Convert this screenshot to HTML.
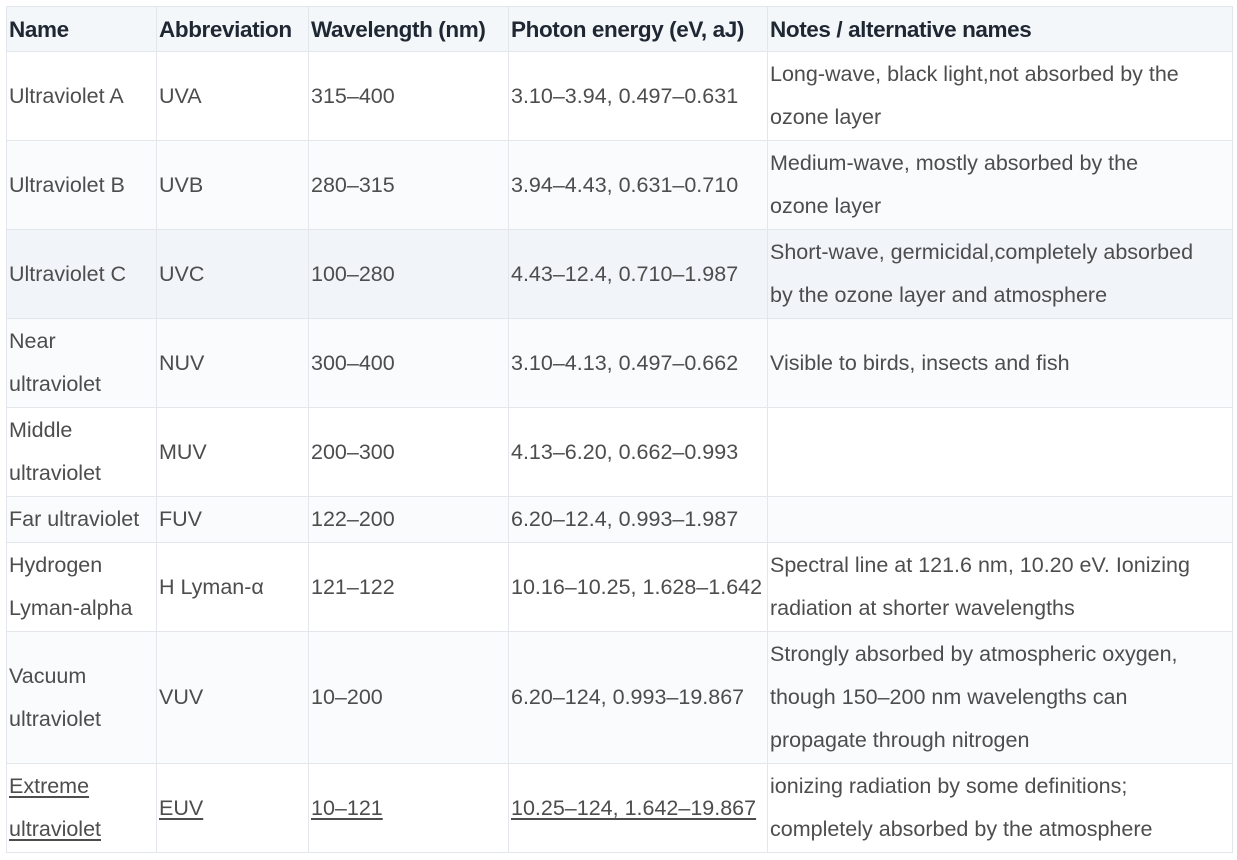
<!DOCTYPE html>
<html><head><meta charset="utf-8"><style>
body{margin:0;background:#fff;width:1237px;height:860px;overflow:hidden}
table{position:absolute;left:6px;top:6px;border-collapse:collapse;table-layout:fixed;width:1226px;font-family:"Liberation Sans",sans-serif;}
td,th{border:1px solid #e3e6ea;padding:0 2px;vertical-align:middle;text-align:left;font-size:21.5px;line-height:43px;color:#4d4d4d;overflow:hidden;white-space:nowrap}
th{font-weight:bold;color:#1f2733;background:#f4f7fa;height:44px;font-size:22.5px;letter-spacing:-0.4px}
tr.s td{background:#f9fbfc}
tr.h td{background:#f1f5f9}
td u{text-decoration:underline;text-decoration-thickness:2px;text-underline-offset:3px}
</style></head><body>
<table>
<colgroup><col style="width:150px"><col style="width:152px"><col style="width:200px"><col style="width:259px"><col style="width:465px"></colgroup>
<tr><th>Name</th><th>Abbreviation</th><th>Wavelength (nm)</th><th>Photon energy (eV, aJ)</th><th>Notes / alternative names</th></tr>
<tr style="height:89px"><td>Ultraviolet A</td><td>UVA</td><td>315–400</td><td>3.10–3.94, 0.497–0.631</td><td>Long-wave, black light,not absorbed by the<br>ozone layer</td></tr>
<tr class="s" style="height:89px"><td>Ultraviolet B</td><td>UVB</td><td>280–315</td><td>3.94–4.43, 0.631–0.710</td><td>Medium-wave, mostly absorbed by the<br>ozone layer</td></tr>
<tr class="h" style="height:89px"><td>Ultraviolet C</td><td>UVC</td><td>100–280</td><td>4.43–12.4, 0.710–1.987</td><td>Short-wave, germicidal,completely absorbed<br>by the ozone layer and atmosphere</td></tr>
<tr class="s" style="height:89px"><td>Near<br>ultraviolet</td><td>NUV</td><td>300–400</td><td>3.10–4.13, 0.497–0.662</td><td>Visible to birds, insects and fish</td></tr>
<tr style="height:89px"><td>Middle<br>ultraviolet</td><td>MUV</td><td>200–300</td><td>4.13–6.20, 0.662–0.993</td><td></td></tr>
<tr class="s" style="height:46px"><td>Far ultraviolet</td><td>FUV</td><td>122–200</td><td>6.20–12.4, 0.993–1.987</td><td></td></tr>
<tr style="height:89px"><td>Hydrogen<br>Lyman-alpha</td><td>H Lyman-α</td><td>121–122</td><td>10.16–10.25, 1.628–1.642</td><td>Spectral line at 121.6 nm, 10.20 eV. Ionizing<br>radiation at shorter wavelengths</td></tr>
<tr class="s" style="height:132px"><td>Vacuum<br>ultraviolet</td><td>VUV</td><td>10–200</td><td>6.20–124, 0.993–19.867</td><td>Strongly absorbed by atmospheric oxygen,<br>though 150–200 nm wavelengths can<br>propagate through nitrogen</td></tr>
<tr style="height:89px"><td><u>Extreme</u><br><u>ultraviolet</u></td><td><u>EUV</u></td><td><u>10–121</u></td><td><u>10.25–124, 1.642–19.867</u></td><td>ionizing radiation by some definitions;<br>completely absorbed by the atmosphere</td></tr>
</table>
</body></html>
